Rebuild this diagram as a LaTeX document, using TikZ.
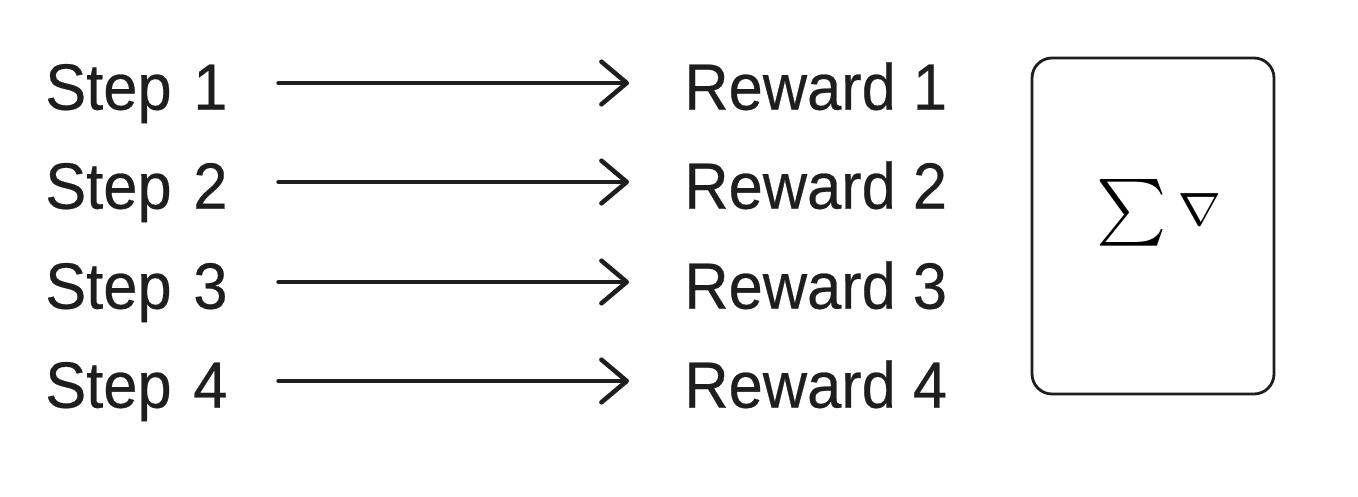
\documentclass[tikz,border=0pt]{standalone}
\usepackage[no-math]{fontspec}
\setmainfont{Liberation Sans}[FakeStretch=0.94,FakeBold=0.4]
\usetikzlibrary{arrows.meta}
\definecolor{ink}{HTML}{1E1E1E}

\begin{document}
\begin{tikzpicture}[x=0.75pt,y=-0.75pt,
		lbl/.style={inner sep=0pt,text height=40pt,text depth=0pt,anchor=west,text=ink,font=\fontsize{49pt}{56pt}\selectfont},
		steplbl/.style={lbl,text width=174.75pt,align=left},
		flow/.style={draw=ink,line width=3.4pt,line cap=round,-{Straight Barb[length=19pt,width=32pt,round]},shorten >=41.25pt},
		panel/.style={draw=ink,line width=2.1pt,rounded corners=15pt,minimum width=181.5pt,minimum height=252pt,inner sep=0pt}]
	\useasboundingbox[fill=white] (0,0) rectangle (1358,496);
	% Steps
	\node[steplbl] (s1) at (45,83) {Step 1};
	\node[steplbl] (s2) at (45,182) {Step 2};
	\node[steplbl] (s3) at (45,282) {Step 3};
	\node[steplbl] (s4) at (45,381) {Step 4};
	% Rewards
	\node[lbl] (r1) at (684,83) {Reward 1};
	\node[lbl] (r2) at (684,182) {Reward 2};
	\node[lbl] (r3) at (684,282) {Reward 3};
	\node[lbl] (r4) at (684,381) {Reward 4};
	\draw[flow] (s1) -- (r1);
	\draw[flow] (s2) -- (r2);
	\draw[flow] (s3) -- (r3);
	\draw[flow] (s4) -- (r4);
	% sum of gradients
	\node[panel] (acc) at (1153,226) {};
	\node[inner sep=0pt] (grad) at ([xshift=4.5pt,yshift=9.75pt]acc.center) {\scalebox{5}{$\sum\raisebox{0.6pt}{$\scriptstyle\nabla$}$}};
\end{tikzpicture}
\end{document}
